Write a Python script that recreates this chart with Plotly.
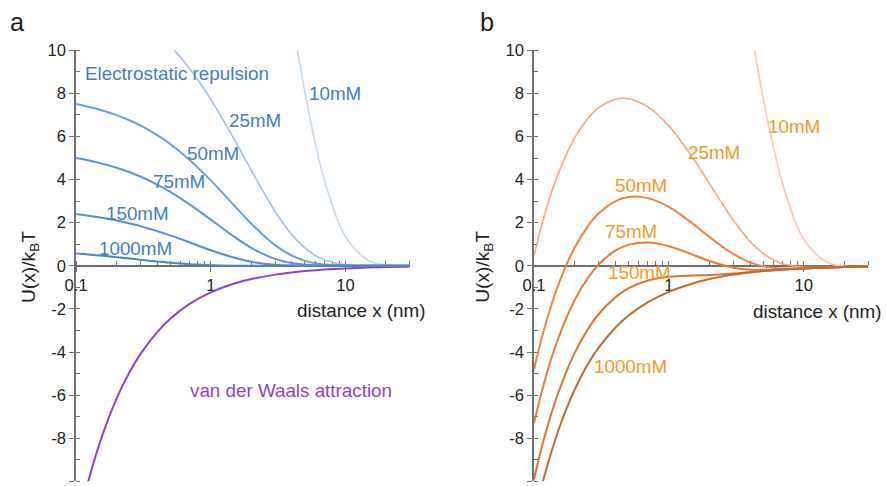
import plotly.graph_objects as go

# ---------------- data ----------------
X = [0.1, 0.12, 0.15, 0.2, 0.25, 0.3, 0.4, 0.5, 0.7, 1, 1.5, 2, 3, 4, 5, 6, 7, 10, 15, 20, 30]
N = None

# panel a: electrostatic repulsion U(x)/kBT per salt concentration
rep_10 = [N, N, N, N, N, N, N, N, N, N, N, N, 16.4, 11.5, 8.05, 5.63, 3.94, 1.35, 0.23, 0.038, 0.001]
rep_25 = [12.77, 12.63, 12.41, 12.07, 11.74, 11.42, 10.80, 10.21, 9.13, 7.72, 5.84, 4.42, 2.53, 1.44, 0.83, 0.47, 0.27, 0.05, 0.003, 0.0, 0.0]
rep_50 = [7.50, 7.39, 7.24, 6.99, 6.74, 6.51, 6.06, 5.65, 4.90, 3.96, 2.78, 1.95, 0.96, 0.47, 0.23, 0.114, 0.056, 0.007, 0.0, 0.0, 0.0]
rep_75 = [5.00, 4.91, 4.77, 4.55, 4.34, 4.14, 3.77, 3.43, 2.84, 2.14, 1.34, 0.83, 0.32, 0.126, 0.049, 0.019, 0.007, 0.0, 0.0, 0.0, 0.0]
rep_150 = [2.40, 2.33, 2.24, 2.10, 1.96, 1.84, 1.61, 1.41, 1.08, 0.72, 0.37, 0.19, 0.05, 0.013, 0.004, 0.001, 0.0, 0.0, 0.0, 0.0, 0.0]
rep_1000 = [0.57, 0.53, 0.48, 0.40, 0.34, 0.28, 0.20, 0.14, 0.072, 0.025, 0.005, 0.001, 0.0, 0.0, 0.0, 0.0, 0.0, 0.0, 0.0, 0.0, 0.0]
vdw = [-12.30, -10.25, -8.20, -6.15, -4.92, -4.10, -3.075, -2.46, -1.757, -1.23, -0.82, -0.615, -0.41, -0.3075, -0.246, -0.205, -0.176, -0.123, -0.082, -0.0615, -0.041]

# panel b: total interaction U(x)/kBT
tot_10 = [N, N, N, N, N, N, N, N, N, N, N, N, 16.0, 11.19, 7.80, 5.43, 3.76, 1.23, 0.15, -0.02, -0.04]
tot_25 = [0.47, 2.38, 4.21, 5.92, 6.82, 7.32, 7.73, 7.75, 7.37, 6.49, 5.02, 3.81, 2.12, 1.13, 0.58, 0.27, 0.09, -0.07, -0.08, -0.062, -0.041]
tot_50 = [-4.80, -2.86, -0.96, 0.84, 1.82, 2.41, 2.99, 3.19, 3.14, 2.73, 1.96, 1.34, 0.55, 0.16, -0.02, -0.09, -0.12, -0.116, -0.082, -0.062, -0.041]
tot_75 = [-7.30, -5.34, -3.43, -1.60, -0.58, 0.04, 0.70, 0.97, 1.08, 0.91, 0.52, 0.22, -0.09, -0.18, -0.20, -0.19, -0.17, -0.123, -0.082, -0.062, -0.041]
tot_150 = [-9.90, -7.92, -5.96, -4.05, -2.96, -2.26, -1.47, -1.05, -0.68, -0.51, -0.45, -0.43, -0.36, -0.29, -0.24, -0.205, -0.176, -0.123, -0.082, -0.062, -0.041]
tot_1000 = [-11.73, -9.72, -7.72, -5.75, -4.58, -3.82, -2.88, -2.32, -1.69, -1.21, -0.82, -0.615, -0.41, -0.3075, -0.246, -0.205, -0.176, -0.123, -0.082, -0.062, -0.041]

conc_labels = ["10mM", "25mM", "50mM", "75mM", "150mM", "1000mM"]
x_tick_vals = [0.1, 1, 10]
x_tick_text = ["0.1", "1", "10"]
y_tick_vals = [-10, -8, -6, -4, -2, 0, 2, 4, 6, 8, 10]
y_tick_text = ["-10", "-8", "-6", "-4", "-2", "0", "2", "4", "6", "8", "10"]

# ---------------- styling ----------------
FONT = "Liberation Sans, Arial, Helvetica, sans-serif"
# measured mapping of page pixels to the photographed picture
OX, OY = 10.7, 7.9
SX, SY = 0.989, 0.979
W, H = 886, 490
blue_lines = ["#c4d8ef", "#a2c0e5", "#6b9dd5", "#6194cf", "#5a8cc8", "#5183c0"]
blue_widths = [1.6, 1.6, 2, 2, 2, 2]
orange_lines = ["#f8c6b1", "#f5a683", "#ef8241", "#ea7a34", "#dc7330", "#c2692d"]
orange_widths = [1.6, 1.6, 2, 2, 2, 2]
blue_text = "#3f7ec4"
orange_text = "#f39b22"
purple = "#8c45c6"
axis_col = "#6f6f6f"
FS = 1 / SX   # font compensation


def fx(px):
    return ((px - OX) / SX) / W


def fy(py):
    return 1 - ((py - OY) / SY) / H


fig = go.Figure()
rep = [rep_10, rep_25, rep_50, rep_75, rep_150, rep_1000]
tot = [tot_10, tot_25, tot_50, tot_75, tot_150, tot_1000]

fig.add_trace(go.Scatter(x=X, y=vdw, mode="lines", line=dict(color=purple, width=2, shape="spline"),
                         xaxis="x", yaxis="y", hoverinfo="skip"))
for i, ys in enumerate(rep):
    fig.add_trace(go.Scatter(x=X, y=ys, mode="lines", name=conc_labels[i],
                             line=dict(color=blue_lines[i], width=blue_widths[i], shape="spline"),
                             xaxis="x", yaxis="y"))
for i, ys in enumerate(tot):
    fig.add_trace(go.Scatter(x=X, y=ys, mode="lines", name=conc_labels[i],
                             line=dict(color=orange_lines[i], width=orange_widths[i], shape="spline"),
                             xaxis="x2", yaxis="y2"))

ydom = [fy(479), fy(49)]
xpos = (ydom[0] + ydom[1]) / 2


def xax(domain):
    return dict(type="log", range=[-1, 1.477], domain=domain, anchor="free", position=xpos,
                showline=True, linecolor=axis_col, linewidth=1.5, layer="below traces",
                ticks="outside", ticklen=5, tickwidth=1.2, tickcolor=axis_col,
                tickmode="array", tickvals=x_tick_vals, ticktext=x_tick_text,
                tickfont=dict(size=16.4 * FS, color="#222", family=FONT),
                showgrid=False, zeroline=False,
                minor=dict(dtick="D1", ticks="inside", ticklen=4, tickwidth=1, tickcolor=axis_col, showgrid=False))


def yax(anchor):
    return dict(range=[-10, 10], domain=ydom, anchor=anchor,
                showline=True, linecolor=axis_col, linewidth=1.5, layer="below traces",
                ticks="outside", ticklen=5, tickwidth=1.2, tickcolor=axis_col,
                tickmode="array", tickvals=y_tick_vals, ticktext=y_tick_text,
                tickfont=dict(size=16.4 * FS, color="#222", family=FONT),
                showgrid=False, zeroline=False,
                minor=dict(dtick=1, ticks="inside", ticklen=4, tickwidth=1, tickcolor=axis_col, showgrid=False))


fig.update_layout(
    width=W, height=H, margin=dict(l=0, r=0, t=0, b=0),
    paper_bgcolor="white", plot_bgcolor="white", showlegend=False,
    font=dict(family=FONT, color="#222"),
    xaxis=xax([fx(75), fx(409.4)]),
    yaxis=yax("x"),
    xaxis2=xax([fx(534), fx(869)]),
    yaxis2=yax("x2"),
)

ann = []


def paper_text(text, px, py, size, color="#222", angle=0):
    ann.append(dict(text=text, x=fx(px), y=fy(py), xref="paper", yref="paper", showarrow=False,
                    xanchor="center", yanchor="middle", textangle=angle,
                    font=dict(size=size * FS, color=color, family=FONT)))


def data_text(text, xlog, y, axis, color, size=18.6):
    ann.append(dict(text=text, x=xlog, y=y, xref=axis[0], yref=axis[1], showarrow=False,
                    xanchor="center", yanchor="middle",
                    font=dict(size=size * FS, color=color, family=FONT)))


paper_text("a", 16, 21, 25)
paper_text("b", 487, 21, 25)
paper_text("U(x)/k<sub>B</sub>T", 29, 265, 19, angle=-90)
paper_text("U(x)/k<sub>B</sub>T", 484, 265, 19, angle=-90)

A = ("x", "y")
B = ("x2", "y2")
data_text("Electrostatic repulsion", -0.252, 8.91, A, blue_text)
data_text("10mM", 0.926, 7.98, A, blue_text)
data_text("25mM", 0.330, 6.72, A, blue_text)
data_text("50mM", 0.015, 5.21, A, blue_text)
data_text("75mM", -0.237, 3.93, A, blue_text)
data_text("150mM", -0.541, 2.44, A, blue_text)
data_text("1000mM", -0.559, 0.81, A, blue_text)
data_text("van der Waals attraction", 0.593, -5.79, A, purple)
data_text("distance x (nm)", 1.119, -2.09, A, "#222")

data_text("10mM", 0.926, 6.46, B, orange_text)
data_text("25mM", 0.332, 5.24, B, orange_text)
data_text("50mM", -0.210, 3.71, B, orange_text)
data_text("75mM", -0.280, 1.61, B, orange_text)
data_text("150mM", -0.218, -0.30, B, orange_text)
data_text("1000mM", -0.284, -4.69, B, orange_text)
data_text("distance x (nm)", 1.103, -2.10, B, "#222")

fig.update_layout(annotations=ann)

fig.write_html("out.html", config={"displayModeBar": False},
               post_script="document.body.style.margin='0';")
